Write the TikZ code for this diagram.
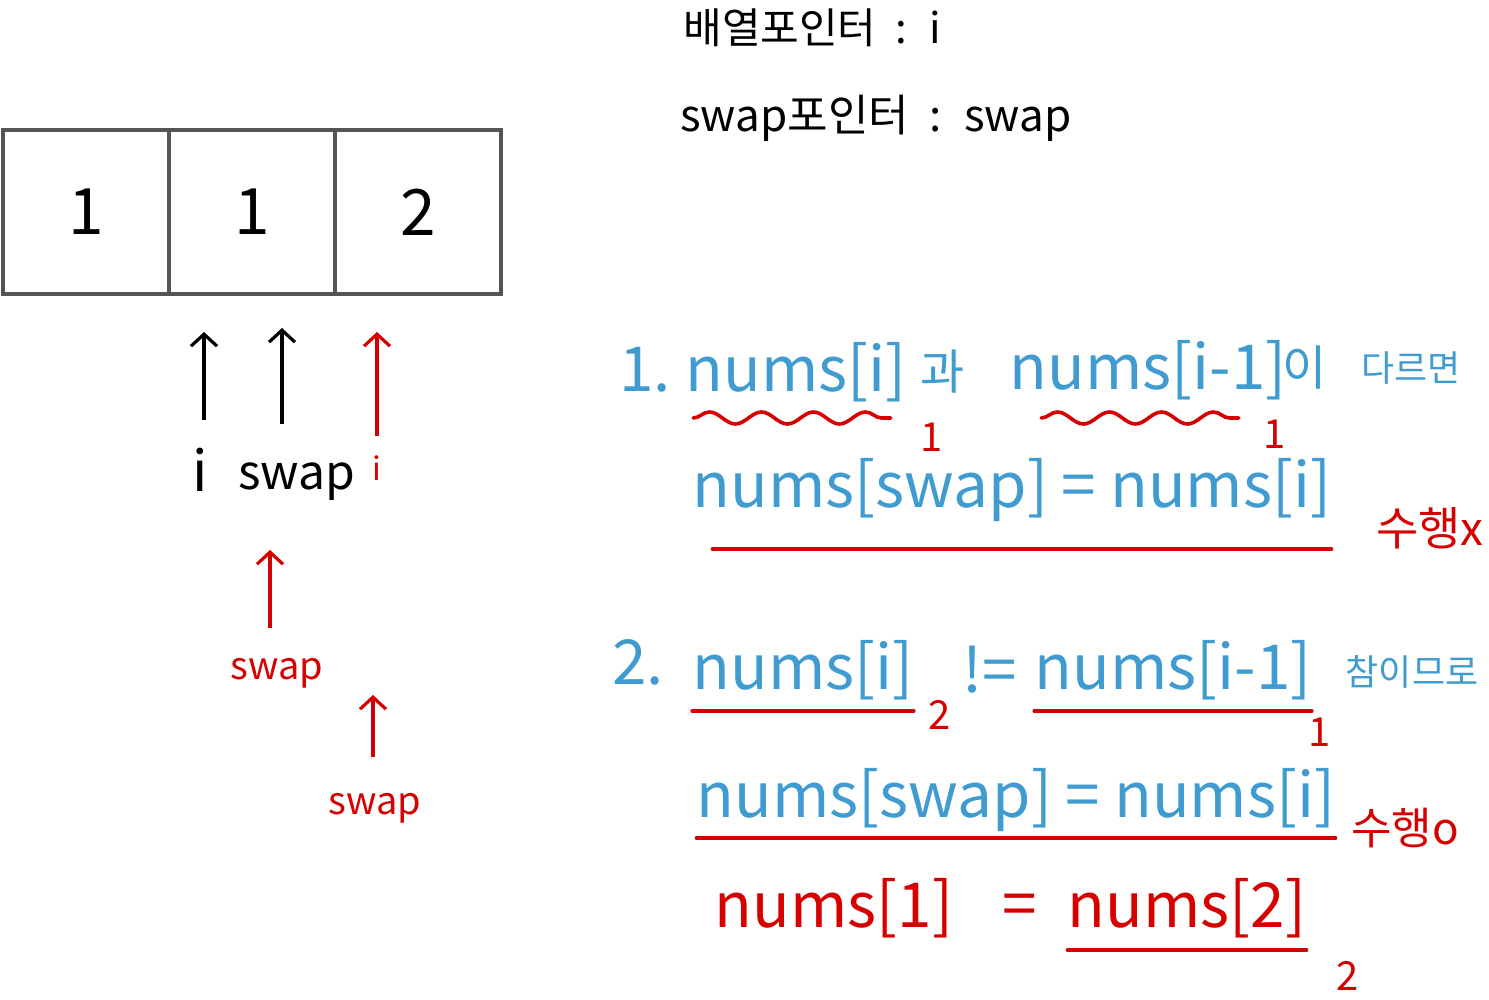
\documentclass[tikz,border=0pt]{standalone}
\usepackage{fontspec}
\setmainfont{Noto Sans CJK KR}
\usetikzlibrary{arrows.meta,decorations.pathmorphing}
\newcommand{\fsz}[1]{\fontsize{#1}{#1}\selectfont}

\begin{document}
\begin{tikzpicture}[x=0.5pt, y=-0.5pt,
  txt/.style={inner sep=0pt},
  hdr/.style={txt, text=black, font=\fsz{21}},
  bluetxt/.style={txt, text=penblue, font=\fsz{31}},
  redtxt/.style={txt, text=penred, font=\fsz{31}},
  redann/.style={txt, text=penred, font=\fsz{20}},
  lbl/.style={txt, text=black, font=\fsz{24}},
  cell/.style={draw=boxgray, line width=2pt, minimum width=83pt, minimum height=82pt, inner sep=0pt, font=\fsz{32}},
  ptr/.style={line width=1.6pt, -{Straight Barb[length=6pt,width=13pt]}},
  redline/.style={draw=penred, line width=1.8pt, line cap=round},
  wavy/.style={redline, decorate, decoration={snake, segment length=26pt, amplitude=3pt}}]
\definecolor{penblue}{RGB}{64,155,208}
\definecolor{penred}{RGB}{214,0,0}
\definecolor{boxgray}{RGB}{85,85,85}
\useasboundingbox (0,0) rectangle (1489,1000);

% array
\node[cell] (cellA) at (86,212) {1};
\node[cell] (cellB) at (252,212) {1};
\node[cell] (cellC) at (418,212) {2};

% pointers
\node[lbl, font=\fsz{28}, anchor=north] (lblI) at (200,448) {i};
\node[lbl, anchor=north] (lblSwap) at (297,462) {swap};
\node[redtxt, font=\fsz{16}, anchor=north] (lblINext) at (377,455) {i};
\draw[ptr, shorten <=14pt, shorten >=18pt] ([xshift=2pt]lblI.north) -- ([xshift=2pt]lblI.north |- cellA.south);
\draw[ptr, shorten <=19pt, shorten >=16pt] ([xshift=-7.5pt]lblSwap.north) -- ([xshift=-7.5pt]lblSwap.north |- cellB.south);
\draw[ptr, penred, shorten <=9.5pt, shorten >=18pt] (lblINext.north) -- (lblINext.north |- cellC.south);

\node[redtxt, font=\fsz{19}, anchor=north] (lblSwapA) at (277,658) {swap};
\node[redtxt, font=\fsz{19}, anchor=north] (lblSwapB) at (375,793) {swap};
\draw[ptr, penred, shorten <=15pt] ([xshift=-3.5pt]lblSwapA.north) -- ++(0,-108);
\draw[ptr, penred, shorten <=18pt] ([xshift=-1pt]lblSwapB.north) -- ++(0,-98);

% header
\node[hdr, anchor=west] (hdrArr) at (683,28) {배열포인터 \ : \ i};
\node[hdr, font=\fsz{22}, anchor=west] (hdrSwap) at (680,118) {swap포인터 \ : \ swap};

% case 1
\node[bluetxt] (caseAno) at (645,370) {1.};
\node[bluetxt] (caseAl) at (796,372) {nums[i]};
\node[bluetxt, font=\fsz{24}] (caseAgwa) at (943,372) {과};
\node[bluetxt] (caseAr) at (1148,370) {nums[i-1]};
\node[bluetxt, font=\fsz{24}] (caseAi) at (1305,368) {이};
\node[bluetxt, font=\fsz{18}] (caseAcond) at (1411,368) {다르면};
\coordinate (wavyA) at (0,418);
\draw[wavy] ([xshift=4pt]caseAl.west |- wavyA) -- ([xshift=-8pt]caseAl.east |- wavyA);
\draw[wavy] ([xshift=16pt]caseAr.west |- wavyA) -- ([xshift=-24pt]caseAr.east |- wavyA);
\node[redann] (valAl) at (932,437) {1};
\node[redann] (valAr) at (1275,434) {1};

\node[bluetxt] (caseAact) at (1012,490) {nums[swap] = nums[i]};
\coordinate (lineA) at (0,549);
\draw[redline] ([xshift=10pt]caseAact.west |- lineA) -- (caseAact.east |- lineA);
\node[redtxt, font=\fsz{23}] (caseAres) at (1430,528) {수행x};

% case 2
\node[bluetxt] (caseBno) at (638,662) {2.};
\node[bluetxt] (caseBl) at (803,670) {nums[i]};
\node[bluetxt] (caseBop) at (990,670) {!=};
\node[bluetxt] (caseBr) at (1173,670) {nums[i-1]};
\node[bluetxt, font=\fsz{18}] (caseBcond) at (1412,672) {참이므로};
\coordinate (lineB) at (0,711);
\draw[redline] (caseBl.west |- lineB) -- (caseBl.east |- lineB);
\draw[redline] (caseBr.west |- lineB) -- (caseBr.east |- lineB);
\node[redann] (valBl) at (940,715) {2};
\node[redann] (valBr) at (1320,732) {1};

\node[bluetxt] (caseBact) at (1016,800) {nums[swap] = nums[i]};
\coordinate (lineC) at (0,838);
\draw[redline] (caseBact.west |- lineC) -- (caseBact.east |- lineC);
\node[redtxt, font=\fsz{22}] (caseBres) at (1405,828) {수행o};

\node[redtxt] (resL) at (834,908) {nums[1]};
\node[redtxt] (resEq) at (1020,910) {=};
\node[redtxt] (resR) at (1187,908) {nums[2]};
\coordinate (lineD) at (0,950);
\draw[redline] (resR.west |- lineD) -- (resR.east |- lineD);
\node[redann] (valR) at (1348,976) {2};
\end{tikzpicture}
\end{document}
